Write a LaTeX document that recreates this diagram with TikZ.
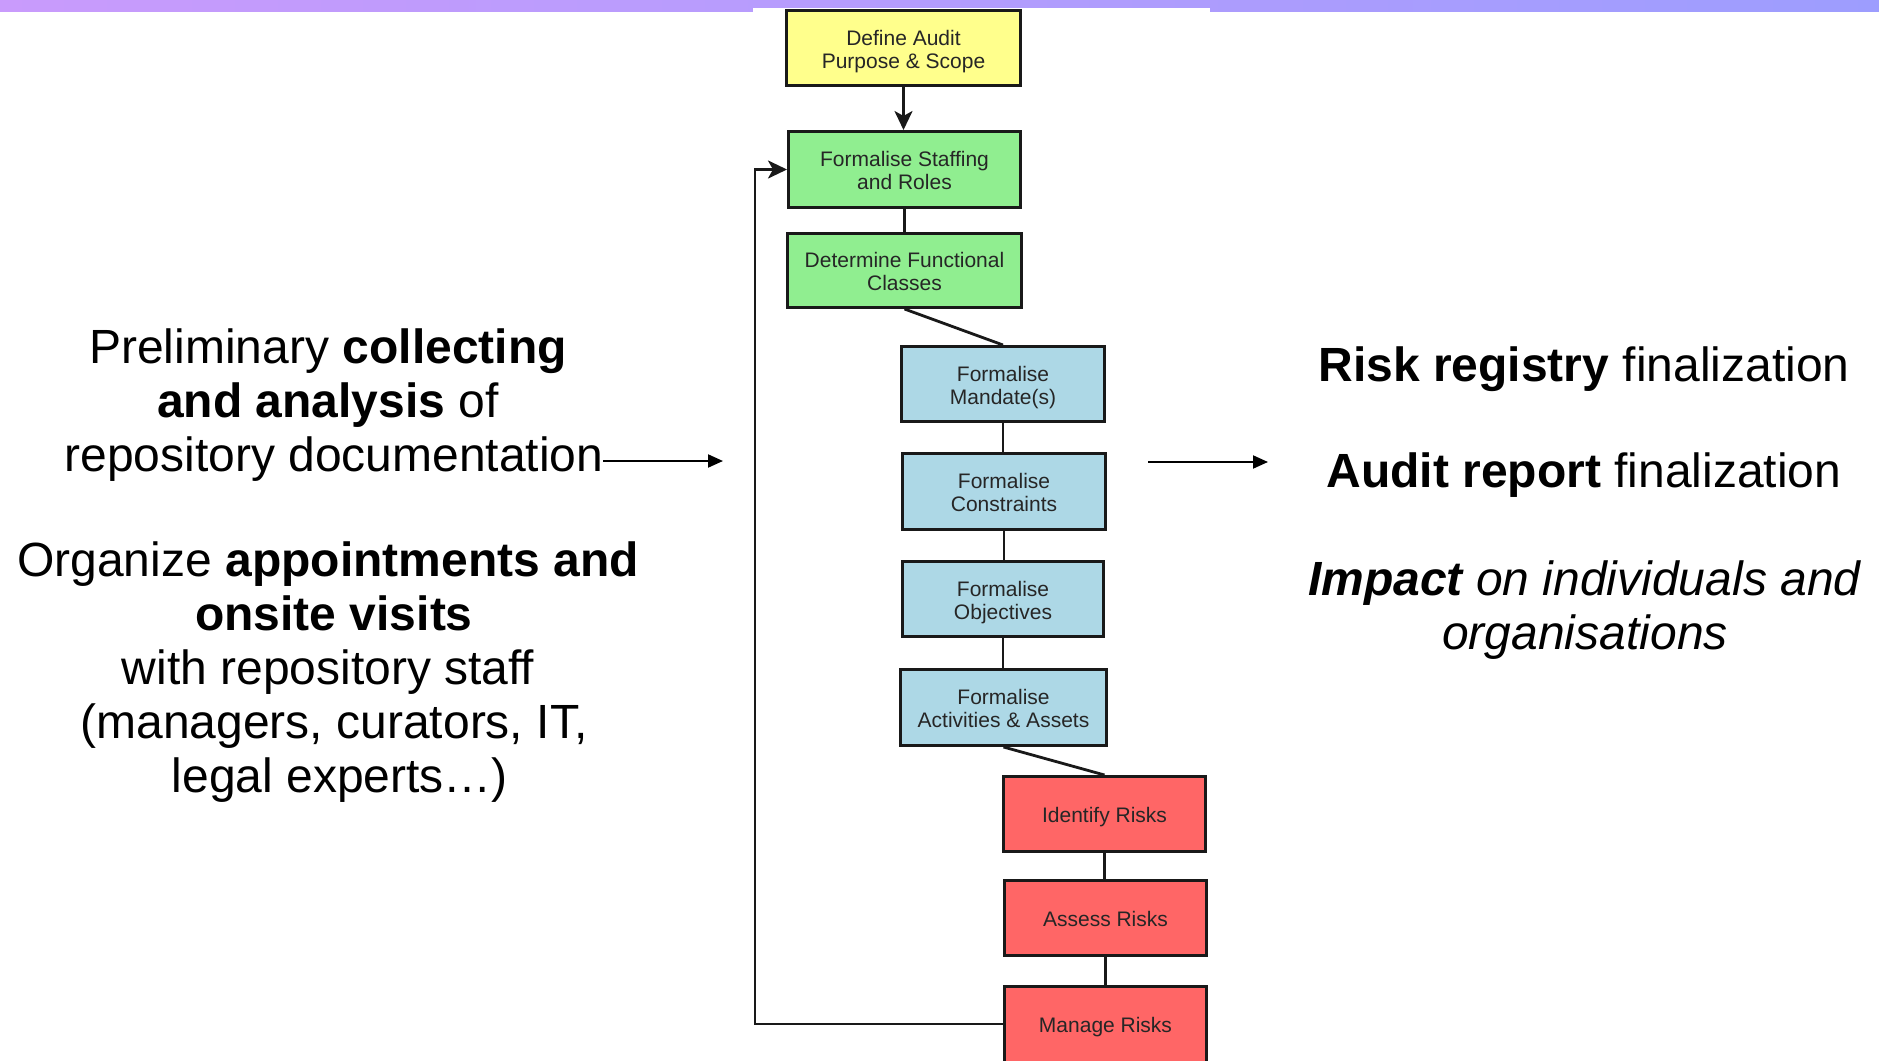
\documentclass[tikz,border=0pt]{standalone}
\usepackage{fontspec}
\setmainfont{Liberation Sans}
\usetikzlibrary{arrows.meta}
\definecolor{boxyellow}{RGB}{255,255,140}
\definecolor{boxgreen}{RGB}{144,238,144}
\definecolor{boxblue}{RGB}{173,216,230}
\definecolor{boxred}{RGB}{255,102,102}
\definecolor{barL}{RGB}{201,155,252}
\definecolor{barM}{RGB}{178,155,250}
\definecolor{barR}{RGB}{157,157,254}
\newcommand\firststrut{\rule{0pt}{22.5pt}}
\begin{document}
\begin{tikzpicture}[x=1pt,y=-1pt,
  stepbox/.style={draw=black!90, line width=3pt, inner sep=0pt, align=center,
    font=\fontsize{21}{23}\selectfont, text=black!85,
    execute at begin node={\firststrut},
    execute at end node={\rule[-5pt]{0pt}{5pt}}},
  link/.style={line width=2.8pt, draw=black!90},
  bigtext/.style={font=\fontsize{48}{54}\selectfont, align=center, inner sep=0pt, anchor=base},
  textarrow/.style={line width=2pt, -{Triangle[length=15pt,width=13pt]}},
  flowarrow/.style={link, -{Stealth[length=19pt,width=18pt,inset=5pt]}}
]
\useasboundingbox[fill=white] (0,0) rectangle (1879,1060);
% top bar
\shade[left color=barL, middle color=barM, right color=barR] (0,0) rectangle (1879,11);
\fill[white] (753,8) rectangle (1210,12);

% flow boxes
\node[stepbox, fill=boxyellow, minimum width=234pt, minimum height=75pt] (define) at (903.5,48) {\firststrut Define Audit\\Purpose \& Scope};
\node[stepbox, fill=boxgreen, minimum width=232pt, minimum height=76pt] (staff) at (904.5,169.5) {\firststrut Formalise Staffing\\and Roles};
\node[stepbox, fill=boxgreen, minimum width=234pt, minimum height=74pt] (func) at (904.5,270.5) {\firststrut Determine Functional\\Classes};
\node[stepbox, fill=boxblue, minimum width=203pt, minimum height=75pt] (mand) at (1003,384) {\firststrut Formalise\\Mandate(s)};
\node[stepbox, fill=boxblue, minimum width=203pt, minimum height=76pt] (cons) at (1004,491.5) {\firststrut Formalise\\Constraints};
\node[stepbox, fill=boxblue, minimum width=201pt, minimum height=75pt] (obj) at (1003,599) {\firststrut Formalise\\Objectives};
\node[stepbox, fill=boxblue, minimum width=206pt, minimum height=76pt] (act) at (1003.5,707.5) {\firststrut Formalise\\Activities \& Assets};
\node[stepbox, fill=boxred, minimum width=202pt, minimum height=75pt] (ident) at (1104.5,814) {Identify Risks};
\node[stepbox, fill=boxred, minimum width=202pt, minimum height=75pt] (assess) at (1105.5,918) {Assess Risks};
\node[stepbox, fill=boxred, minimum width=202pt, minimum height=76pt] (manage) at (1105.5,1024) {Manage Risks};

% connectors
\draw[flowarrow] (define.south) -- (define.south |- staff.north);
\draw[link] (staff.south) -- (staff.south |- func.north);
\draw[link] (func.south) -- (mand.north);
\draw[link] (mand.south) -- (mand.south |- cons.north);
\draw[link] (cons.south) -- (cons.south |- obj.north);
\draw[link] (obj.south) -- (obj.south |- act.north);
\draw[link] (act.south) -- (ident.north);
\draw[link] (ident.south) -- (ident.south |- assess.north);
\draw[link] (assess.south) -- (assess.south |- manage.north);
\coordinate (loopx) at (755,0);
\draw[flowarrow] (manage.west) -- (manage.west -| loopx) |- (staff.west);

% left text (base anchor = baseline of the last line)
\node[bigtext] (prelim) at (328,471) {Preliminary \textbf{collecting}\\\textbf{and analysis} of\\\hspace*{12pt}repository documentation};
\node[bigtext] (organize) at (328,792) {Organize \textbf{appointments and}\\\hspace*{12pt}\textbf{onsite visits}\\with repository staff\\\hspace*{12pt}(managers, curators, IT,\\\hspace*{24pt}legal experts…)};

% right text
\node[bigtext] (registry) at (1584,381) {\textbf{Risk registry} finalization};
\node[bigtext] (report) at (1584,487) {\textbf{Audit report} finalization};
\node[bigtext] (impact) at (1585,649) {\textit{\textbf{Impact} on individuals and}\\\textit{organisations}};

% text arrows
\coordinate (la1) at (603,461);
\coordinate (la2) at (723,461);
\draw[textarrow] (la1) -- (la2);
\coordinate (ra1) at (1148,462);
\coordinate (ra2) at (1268,462);
\draw[textarrow] (ra1) -- (ra2);
\end{tikzpicture}
\end{document}
